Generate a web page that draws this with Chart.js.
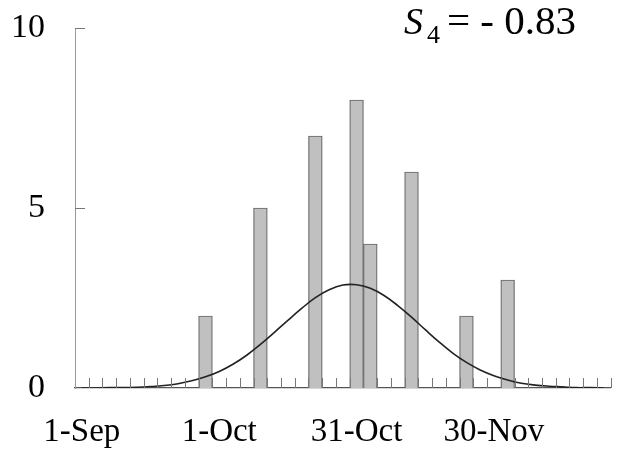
<!DOCTYPE html>
<html lang="en">
  <head>
    <meta charset="utf-8" />
    <title>S4 histogram</title>
    <script src="https://cdn.jsdelivr.net/npm/chart.js@4"></script>
    <style>
      body { margin: 0; background: #fff; }
      .wrap { width: 629px; height: 451px; }
    </style>
  </head>
  <body>
    <div class="wrap"><canvas id="myChart"></canvas></div>
    <script>
      // 3-day bins starting 1-Sep, only every 10th bin gets a label
      var binCount = 39;
      var tickLabels = { 0: "1-Sep", 10: "1-Oct", 20: "31-Oct", 30: "30-Nov" };

      // observed counts (bin index -> count)
      var barBins = [9, 13, 17, 20, 21, 24, 28, 31];
      var barCounts = [2, 5, 7, 8, 4, 6, 2, 3];

      // fitted curve, read at each bin centre
      var curveValues = [
        0.00, 0.00, 0.01, 0.01, 0.02, 0.04, 0.07, 0.12, 0.20, 0.31,
        0.46, 0.66, 0.91, 1.21, 1.54, 1.88, 2.21, 2.51, 2.73, 2.86,
        2.87, 2.77, 2.57, 2.29, 1.97, 1.62, 1.28, 0.97, 0.71, 0.50,
        0.34, 0.22, 0.13, 0.08, 0.05, 0.03, 0.01, 0.01, 0.00
      ];

      var labels = [];
      var barData = [];
      for (var i = 0; i < binCount; i++) {
        labels.push(tickLabels[i] || "");
        barData.push(null);
      }
      barBins.forEach(function (b, k) { barData[b] = barCounts[k]; });

      var serif = "'Liberation Serif', 'DejaVu Serif', serif";

      // small tick marks pointing into the plot, plus the S4 label
      var insideTicks = {
        id: "insideTicks",
        afterDraw: function (chart) {
          var c = chart.ctx, x = chart.scales.x, y = chart.scales.y;
          var half = (x.getPixelForValue(1) - x.getPixelForValue(0)) / 2;
          c.save();
          c.strokeStyle = "#777";
          c.lineWidth = 1;
          c.beginPath();
          for (var i = 1; i <= binCount; i++) {
            var px = Math.round(x.getPixelForValue(i) - half) + 0.5;
            c.moveTo(px, y.bottom);
            c.lineTo(px, y.bottom - 10);
          }
          [5, 10].forEach(function (v) {
            var py = Math.round(y.getPixelForValue(v)) + 0.5;
            c.moveTo(x.left, py);
            c.lineTo(x.left + 10, py);
          });
          c.stroke();

          c.fillStyle = "#000";
          c.textBaseline = "alphabetic";
          c.font = "italic 38px " + serif;
          c.fillText("S", 404, 34);
          c.font = "26px " + serif;
          c.fillText("4", 427, 43);
          c.font = "41px " + serif;
          c.fillText("= - 0.83", 447, 34);
          c.restore();
        }
      };

      new Chart(document.getElementById("myChart"), {
        data: {
          labels: labels,
          datasets: [
            {
              type: "line",
              data: curveValues,
              borderColor: "#222",
              borderWidth: 1.6,
              pointRadius: 0,
              tension: 0.4,
              order: 0
            },
            {
              type: "bar",
              data: barData,
              backgroundColor: "#c0c0c0",
              borderColor: "#666",
              borderWidth: 1.2,
              barPercentage: 1,
              categoryPercentage: 1,
              order: 1
            }
          ]
        },
        options: {
          responsive: true,
          maintainAspectRatio: false,
          animation: false,
          layout: { padding: { top: 28, right: 16, left: 0, bottom: 0 } },
          plugins: { legend: { display: false }, tooltip: { enabled: false } },
          scales: {
            x: {
              type: "category",
              offset: true,
              grid: { display: false, drawTicks: false },
              border: { display: true, color: "#555", width: 1.2 },
              ticks: {
                autoSkip: false,
                maxRotation: 0,
                padding: 25,
                color: "#000",
                font: { family: serif, size: 33 }
              },
              afterFit: function (s) { s.height = 63; s.paddingTop = 0; }
            },
            y: {
              min: 0,
              max: 10,
              grid: { display: false, drawTicks: false },
              border: { display: true, color: "#999", width: 1 },
              ticks: {
                stepSize: 5,
                padding: 30,
                color: "#000",
                font: { family: serif, size: 34 }
              },
              afterFit: function (s) { s.width = 75; s.paddingTop = 0; s.paddingBottom = 0; }
            }
          }
        },
        plugins: [insideTicks]
      });
    </script>
  </body>
</html>
